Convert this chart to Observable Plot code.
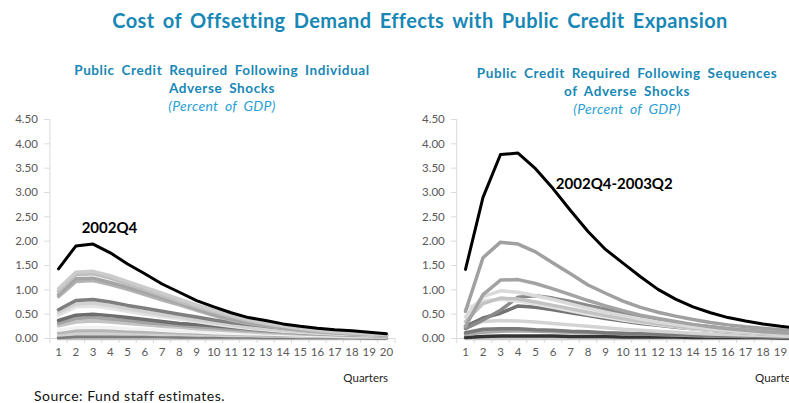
<!DOCTYPE html>
<html><head><meta charset="utf-8">
<script src="https://cdn.jsdelivr.net/npm/d3@7"></script>
<script src="https://cdn.jsdelivr.net/npm/@observablehq/plot@0.6"></script>
<style>
html,body{margin:0;padding:0;background:#fff;overflow:hidden;}
#wrap{position:relative;width:789px;height:403px;overflow:hidden;font-family:Lato,"Open Sans",sans-serif;}
.t{position:absolute;text-align:center;white-space:nowrap;}
#title{left:0;width:840px;top:9px;font-size:20px;line-height:22px;font-weight:bold;color:#1787b5;letter-spacing:0.4px;word-spacing:3px;}
.sub{font-size:13.5px;line-height:18px;font-weight:bold;color:#1787b5;letter-spacing:0.6px;word-spacing:3px;}
.sub i{font-weight:normal;font-size:14px;color:#2a9fd6;letter-spacing:0.3px;}
#subL{left:22px;width:400px;top:61px;}
#subR{left:427px;width:400px;top:64px;}
#source{position:absolute;left:34px;top:389px;font-size:14px;line-height:14px;color:#111;letter-spacing:0.5px;}
.plot{position:absolute;top:110px;}
</style></head>
<body><div id="wrap">
<div id="title" class="t">Cost of Offsetting Demand Effects with Public Credit Expansion</div>
<div id="subL" class="t sub">Public Credit Required Following Individual<br>Adverse Shocks<br><i>(Percent of GDP)</i></div>
<div id="subR" class="t sub">Public Credit Required Following Sequences<br>of Adverse Shocks<br><i>(Percent of GDP)</i></div>
<div id="left" class="plot" style="left:0px;width:400px"></div>
<div id="right" class="plot" style="left:400px;width:420px"></div>
<div id="source">Source: Fund staff estimates.</div>
</div>
<script>
const quarters = [1,2,3,4,5,6,7,8,9,10,11,12,13,14,15,16,17,18,19,20];
const yTicks = [0,0.5,1,1.5,2,2.5,3,3.5,4,4.5];
const catEdges = [0.5,1.5,2.5,3.5,4.5,5.5,6.5,7.5,8.5,9.5,10.5,11.5,12.5,13.5,14.5,15.5,16.5,17.5,18.5,19.5,20.5];

// Left panel: individual adverse shocks
const indiv2002Q4 = [1.43,1.90,1.94,1.76,1.53,1.33,1.12,0.95,0.78,0.65,0.53,0.43,0.37,0.30,0.25,0.21,0.18,0.16,0.13,0.10];
const indivA = [1.02,1.36,1.38,1.29,1.17,1.05,0.93,0.81,0.69,0.58,0.48,0.39,0.32,0.26,0.21,0.17,0.14,0.12,0.10,0.08];
const indivB = [0.97,1.31,1.33,1.24,1.12,1.00,0.88,0.76,0.65,0.55,0.45,0.37,0.30,0.25,0.20,0.16,0.13,0.11,0.09,0.08];
const indivC = [0.90,1.23,1.24,1.15,1.05,0.95,0.84,0.73,0.61,0.49,0.40,0.32,0.27,0.22,0.18,0.15,0.12,0.10,0.09,0.07];
const indivD = [0.86,1.17,1.19,1.11,1.01,0.90,0.79,0.69,0.58,0.47,0.38,0.31,0.26,0.21,0.17,0.14,0.12,0.10,0.08,0.07];
const indivE = [0.59,0.78,0.80,0.75,0.68,0.62,0.56,0.50,0.44,0.38,0.33,0.29,0.25,0.21,0.18,0.15,0.13,0.11,0.09,0.07];
const indivF = [0.53,0.71,0.73,0.68,0.61,0.55,0.49,0.44,0.38,0.33,0.28,0.23,0.20,0.17,0.14,0.12,0.10,0.09,0.07,0.06];
const indivG = [0.48,0.65,0.67,0.62,0.56,0.50,0.45,0.40,0.35,0.30,0.25,0.21,0.18,0.15,0.13,0.11,0.09,0.08,0.07,0.06];
const indivH = [0.37,0.48,0.50,0.47,0.43,0.39,0.35,0.31,0.29,0.26,0.23,0.20,0.17,0.15,0.13,0.11,0.09,0.08,0.07,0.06];
const indivI = [0.31,0.41,0.43,0.40,0.37,0.33,0.30,0.27,0.24,0.22,0.19,0.17,0.15,0.13,0.11,0.09,0.08,0.07,0.06,0.05];
const indivJ = [0.26,0.34,0.36,0.34,0.31,0.28,0.25,0.23,0.20,0.18,0.16,0.14,0.12,0.11,0.09,0.08,0.07,0.06,0.05,0.05];
const indivK = [0.17,0.22,0.23,0.22,0.20,0.19,0.17,0.15,0.14,0.12,0.11,0.10,0.09,0.08,0.07,0.06,0.05,0.05,0.04,0.04];
const indivL = [0.12,0.16,0.17,0.16,0.15,0.14,0.13,0.12,0.11,0.10,0.09,0.08,0.07,0.06,0.06,0.05,0.05,0.04,0.04,0.03];
const indivM = [0.07,0.10,0.10,0.10,0.09,0.09,0.08,0.08,0.07,0.07,0.06,0.06,0.05,0.05,0.04,0.04,0.04,0.03,0.03,0.03];
const indivN = [0.02,0.04,0.04,0.04,0.04,0.04,0.04,0.03,0.03,0.03,0.03,0.03,0.02,0.02,0.02,0.02,0.02,0.02,0.01,0.01];
const indivO = [0.00,0.00,0.00,0.00,0.00,0.00,0.00,0.00,0.00,0.00,0.00,0.00,0.00,0.00,0.00,0.00,0.00,0.00,0.00,0.00];

// Right panel: sequences of adverse shocks
const seq2002Q4_2003Q2 = [1.42,2.90,3.78,3.81,3.49,3.08,2.63,2.20,1.83,1.55,1.27,1.01,0.81,0.65,0.53,0.43,0.36,0.30,0.25,0.21];
const seqA = [0.56,1.66,1.98,1.94,1.78,1.55,1.33,1.10,0.93,0.77,0.64,0.54,0.46,0.39,0.33,0.28,0.24,0.21,0.18,0.15];
const seqB = [0.25,0.90,1.20,1.21,1.13,1.02,0.90,0.78,0.67,0.57,0.48,0.41,0.35,0.29,0.24,0.20,0.17,0.14,0.12,0.10];
const seqC = [0.45,0.86,0.98,0.95,0.88,0.80,0.71,0.62,0.54,0.47,0.40,0.34,0.29,0.24,0.20,0.17,0.14,0.12,0.10,0.08];
const seqD = [0.35,0.72,0.83,0.81,0.75,0.68,0.61,0.54,0.47,0.41,0.35,0.30,0.25,0.21,0.18,0.15,0.13,0.11,0.09,0.07];
const seqE = [0.60,0.78,0.80,0.77,0.71,0.64,0.57,0.50,0.44,0.38,0.33,0.28,0.24,0.20,0.17,0.14,0.12,0.10,0.08,0.07];
const seqF = [0.20,0.38,0.58,0.85,0.88,0.83,0.76,0.68,0.60,0.52,0.45,0.39,0.33,0.28,0.24,0.20,0.17,0.14,0.12,0.10];
const seqG = [0.25,0.42,0.52,0.67,0.64,0.59,0.53,0.47,0.41,0.36,0.31,0.27,0.23,0.20,0.17,0.14,0.12,0.10,0.09,0.07];
const seqH = [0.22,0.35,0.37,0.36,0.34,0.31,0.28,0.25,0.22,0.19,0.17,0.15,0.13,0.11,0.09,0.08,0.07,0.06,0.05,0.04];
const seqI = [0.12,0.19,0.20,0.20,0.18,0.17,0.15,0.14,0.12,0.11,0.10,0.09,0.08,0.07,0.06,0.05,0.05,0.04,0.04,0.03];
const seqJ = [0.08,0.13,0.15,0.16,0.15,0.14,0.13,0.12,0.11,0.10,0.09,0.08,0.07,0.06,0.05,0.05,0.04,0.04,0.03,0.03];
const seqK = [0.02,0.04,0.05,0.05,0.05,0.05,0.04,0.04,0.04,0.03,0.03,0.03,0.03,0.02,0.02,0.02,0.02,0.02,0.01,0.01];
const seqL = [0.00,0.00,0.00,0.00,0.00,0.00,0.00,0.00,0.00,0.00,0.00,0.00,0.00,0.00,0.00,0.00,0.00,0.00,0.00,0.00];

// draw order (first drawn = bottom) and styles
const leftSeries = [indivO, indivN, indivM, indivL, indivK, indivJ, indivI, indivH, indivG, indivF, indivE, indivD, indivC, indivB, indivA, indiv2002Q4];
const leftColors = ["#bfbfbf","#7a7a7a","#d0d0d0","#b5b5b5","#f2f2f2","#c4c4c4","#a3a3a3","#6e6e6e","#e3e3e3","#d2d2d2","#7f7f7f","#b3b3b3","#a5a5a5","#bebebe","#cbcbcb","#000000"];
const rightSeries = [seqL, seqK, seqJ, seqI, seqH, seqG, seqF, seqE, seqD, seqC, seqB, seqA, seq2002Q4_2003Q2];
const rightColors = ["#c8c8c8","#333333","#a8a8a8","#7a7a7a","#d3d3d3","#737373","#8a8a8a","#e3e3e3","#c3c3c3","#dadada","#a3a3a3","#a0a0a0","#000000"];

function tidy(series) {
  const rows = [];
  series.forEach((vals, s) => vals.forEach((v, i) => rows.push({s, q: quarters[i], v})));
  return rows;
}

function panel({series, colors, width, marginLeft, marginRight, label}) {
  const rows = tidy(series);
  const marks = [
    Plot.ruleX([0.5], {stroke: "#d9d9d9"}),
    Plot.ruleY([0], {stroke: "#d9d9d9"}),
    Plot.axisY({ticks: yTicks, tickSize: 5, tickFormat: () => "", stroke: "#d9d9d9", label: null}),
    Plot.axisY({ticks: yTicks, tickSize: 0, tickPadding: 12, tickFormat: d3.format(".2f"), fill: "#595959", fontSize: 11.5, label: null}),
    Plot.axisX({ticks: catEdges, tickSize: 5, tickFormat: () => "", stroke: "#d9d9d9", label: null}),
    Plot.axisX({ticks: quarters, tickSize: 0, tickPadding: 9, tickFormat: d => String(d), fill: "#595959", fontSize: 11.5, label: null}),
  ];
  series.forEach((vals, s) => {
    marks.push(Plot.line(rows.filter(r => r.s === s), {
      x: "q", y: "v", stroke: colors[s],
      strokeWidth: colors[s] === "#000000" ? 3 : 3.5,
      strokeLinejoin: "round", strokeLinecap: "round"
    }));
  });
  marks.push(Plot.text([label.text], {x: label.x, y: label.y, fontSize: 15, fontWeight: "bold", fill: "#000", letterSpacing: "0.6px"}));
  marks.push(Plot.text(["Quarters"], {frameAnchor: "bottom-right", dx: -7, dy: 43, textAnchor: "end", fontSize: 11.5, fill: "#262626", letterSpacing: "0.6px"}));
  return Plot.plot({
    width, height: 293,
    marginTop: 9, marginBottom: 65, marginLeft, marginRight,
    style: {fontFamily: "Lato, 'Open Sans', sans-serif", background: "transparent", overflow: "visible", maxWidth: "none"},
    x: {domain: [0.5, 20.5], axis: null},
    y: {domain: [0, 4.5], axis: null},
    marks
  });
}

document.getElementById("left").append(panel({
  series: leftSeries, colors: leftColors, width: 400, marginLeft: 49.4, marginRight: 5.4,
  label: {text: "2002Q4", x: 3.95, y: 2.26}
}));
document.getElementById("right").append(panel({
  series: rightSeries, colors: rightColors, width: 420, marginLeft: 56.25, marginRight: 13.75,
  label: {text: "2002Q4-2003Q2", x: 9.5, y: 3.18}
}));
</script>
</body></html>
